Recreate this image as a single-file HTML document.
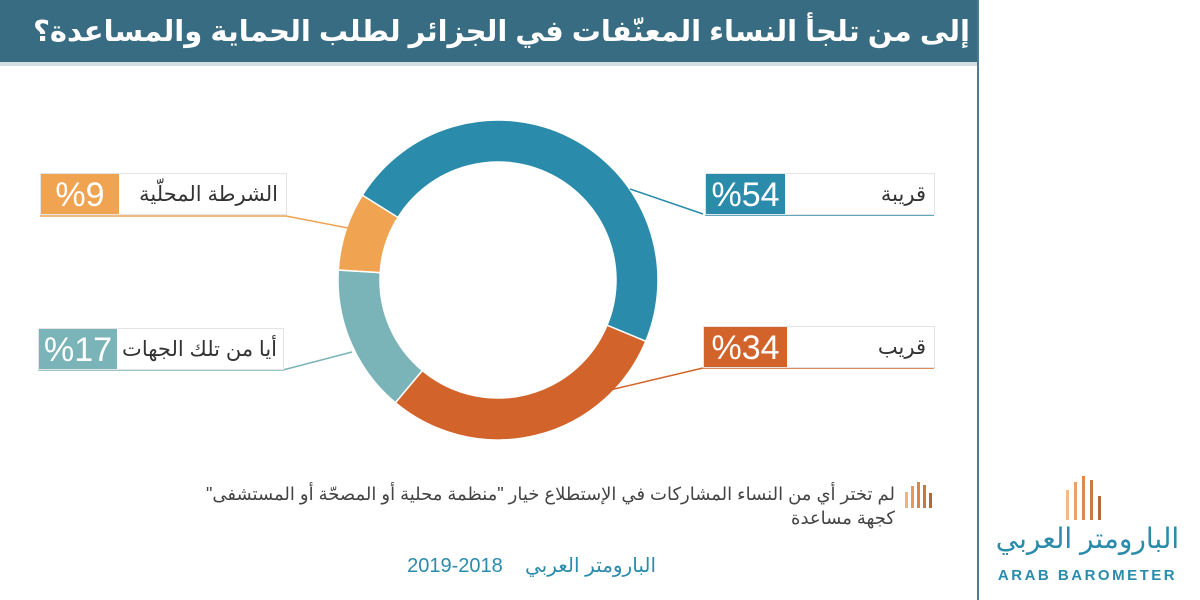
<!DOCTYPE html>
<html><head><meta charset="utf-8"><style>
html,body{margin:0;padding:0;width:1200px;height:600px;overflow:hidden;background:#fff;font-family:"Liberation Sans","Noto Sans CJK SC","DejaVu Sans",sans-serif}
.abs{position:absolute}
.lbl{position:absolute;height:42px;background:#fff;border:1px solid #e4e4e4;box-sizing:border-box}
.pct{position:absolute;top:0;height:100%;color:#fff;font-size:34px;line-height:42px;text-align:center;white-space:nowrap}
.txt{position:absolute;top:0;height:100%;line-height:42px;font-size:21px;color:#333;direction:rtl;white-space:nowrap}
</style></head><body>
<div class="abs" style="left:0;top:0;width:978px;height:62px;background:#386c82"></div>
<div class="abs" style="left:0;top:62px;width:978px;height:4px;background:#d4dde2"></div>
<div class="abs" style="left:0;top:4px;width:970px;height:56px;line-height:56px;color:#fff;font-size:29px;font-weight:bold;text-align:right;direction:rtl;white-space:nowrap">إلى من تلجأ النساء المعنّفات في الجزائر لطلب الحماية والمساعدة؟</div>
<div class="abs" style="left:977px;top:0;width:2px;height:600px;background:#4b7d92"></div>

<svg class="abs" style="left:0;top:0" width="1200" height="600">
<g id="seg"></g>
<line x1="630" y1="189" x2="703" y2="214" stroke="#2a8bab" stroke-width="1.5"/>
<line x1="705" y1="215" x2="934" y2="215" stroke="#2a8bab" stroke-width="1.5"/>
<line x1="610" y1="390" x2="703" y2="368" stroke="#d2632a" stroke-width="1.5"/>
<line x1="703" y1="368" x2="934" y2="368" stroke="#d2632a" stroke-width="1.5"/>
<line x1="286" y1="216" x2="348" y2="228" stroke="#f0a452" stroke-width="1.5"/>
<line x1="40" y1="216" x2="286" y2="216" stroke="#f0a452" stroke-width="1.5"/>
<line x1="283" y1="370" x2="352" y2="352" stroke="#7ab3b8" stroke-width="1.5"/>
<line x1="38" y1="370" x2="283" y2="370" stroke="#7ab3b8" stroke-width="1.5"/>
</svg>

<div class="lbl" style="left:705px;top:173px;width:230px">
<div class="pct" style="left:0;width:79px;background:#2a8bab">%54</div><div class="txt" style="right:8px">قريبة</div></div>
<div class="lbl" style="left:703px;top:326px;width:232px">
<div class="pct" style="left:0;width:83px;background:#d2632a">%34</div><div class="txt" style="right:8px">قريب</div></div>
<div class="lbl" style="left:40px;top:173px;width:247px">
<div class="pct" style="left:0;width:78px;background:#f0a452">%9</div><div class="txt" style="right:8px">الشرطة المحلّية</div></div>
<div class="lbl" style="left:38px;top:328px;width:246px">
<div class="pct" style="left:0;width:78px;background:#7ab3b8">%17</div><div class="txt" style="right:6px">أيا من تلك الجهات</div></div>

<svg class="abs" style="left:905px;top:482px" width="30" height="28">
<rect x="0" y="10" width="3" height="16" fill="#f0b27a"/><rect x="6" y="4" width="3" height="22" fill="#e49a5e"/><rect x="12" y="0" width="3" height="26" fill="#d8864a"/><rect x="18" y="3" width="3" height="23" fill="#c9783e"/><rect x="24" y="11" width="3" height="15" fill="#b06a36"/></svg>
<div class="abs" style="left:200px;top:482px;width:695px;font-size:18px;line-height:24px;color:#444;direction:rtl;text-align:right;white-space:nowrap">لم تختر أي من النساء المشاركات في الإستطلاع خيار "منظمة محلية أو المصحّة أو المستشفى"<br>كجهة مساعدة</div>
<div class="abs" style="left:340px;top:553px;width:316px;font-size:20px;color:#2a8bab;direction:rtl;text-align:right;white-space:nowrap">البارومتر العربي &nbsp;&nbsp; 2018-2019</div>

<svg class="abs" style="left:1064px;top:474px" width="46" height="46">
<rect x="2" y="16" width="3" height="30" fill="#f2b98a"/><rect x="10" y="8" width="3" height="38" fill="#eba06a"/><rect x="18" y="2" width="3" height="44" fill="#dd8a52"/><rect x="26" y="6" width="3" height="40" fill="#cc7a44"/><rect x="34" y="22" width="3" height="24" fill="#b56a3a"/></svg>
<div class="abs" style="left:985px;top:522px;width:205px;text-align:center;font-size:28px;color:#2a8bab;direction:rtl;white-space:nowrap">البارومتر العربي</div>
<div class="abs" style="left:985px;top:567px;width:205px;text-align:center;font-size:15px;font-weight:bold;letter-spacing:2.5px;color:#2a8bab">ARAB BAROMETER</div>

<script>
const categories=["قريبة","قريب","أيا من تلك الجهات","الشرطة المحلّية"];
const values=[54,34,17,9];
const colors=["#2a8bab","#d2632a","#7ab3b8","#f0a452"];
const cx=498,cy=280,R=160,r=118,start=-58;
const total=values.reduce((a,b)=>a+b,0);
const g=document.getElementById('seg');
function pt(a,rad){const t=(a-90)*Math.PI/180;return [cx+rad*Math.cos(t),cy+rad*Math.sin(t)];}
let a=start;
values.forEach((v,i)=>{
 const s=v/total*360,a2=a+s,lg=s>180?1:0;
 const p1=pt(a,R),p2=pt(a2,R),p3=pt(a2,r),p4=pt(a,r);
 const p=document.createElementNS('http://www.w3.org/2000/svg','path');
 p.setAttribute('d',`M${p1[0]},${p1[1]}A${R},${R} 0 ${lg} 1 ${p2[0]},${p2[1]}L${p3[0]},${p3[1]}A${r},${r} 0 ${lg} 0 ${p4[0]},${p4[1]}Z`);
 p.setAttribute('fill',colors[i]);p.setAttribute('stroke','#fff');p.setAttribute('stroke-width','1.5');
 
 
 g.appendChild(p);a=a2;
});
</script>
</body></html>
